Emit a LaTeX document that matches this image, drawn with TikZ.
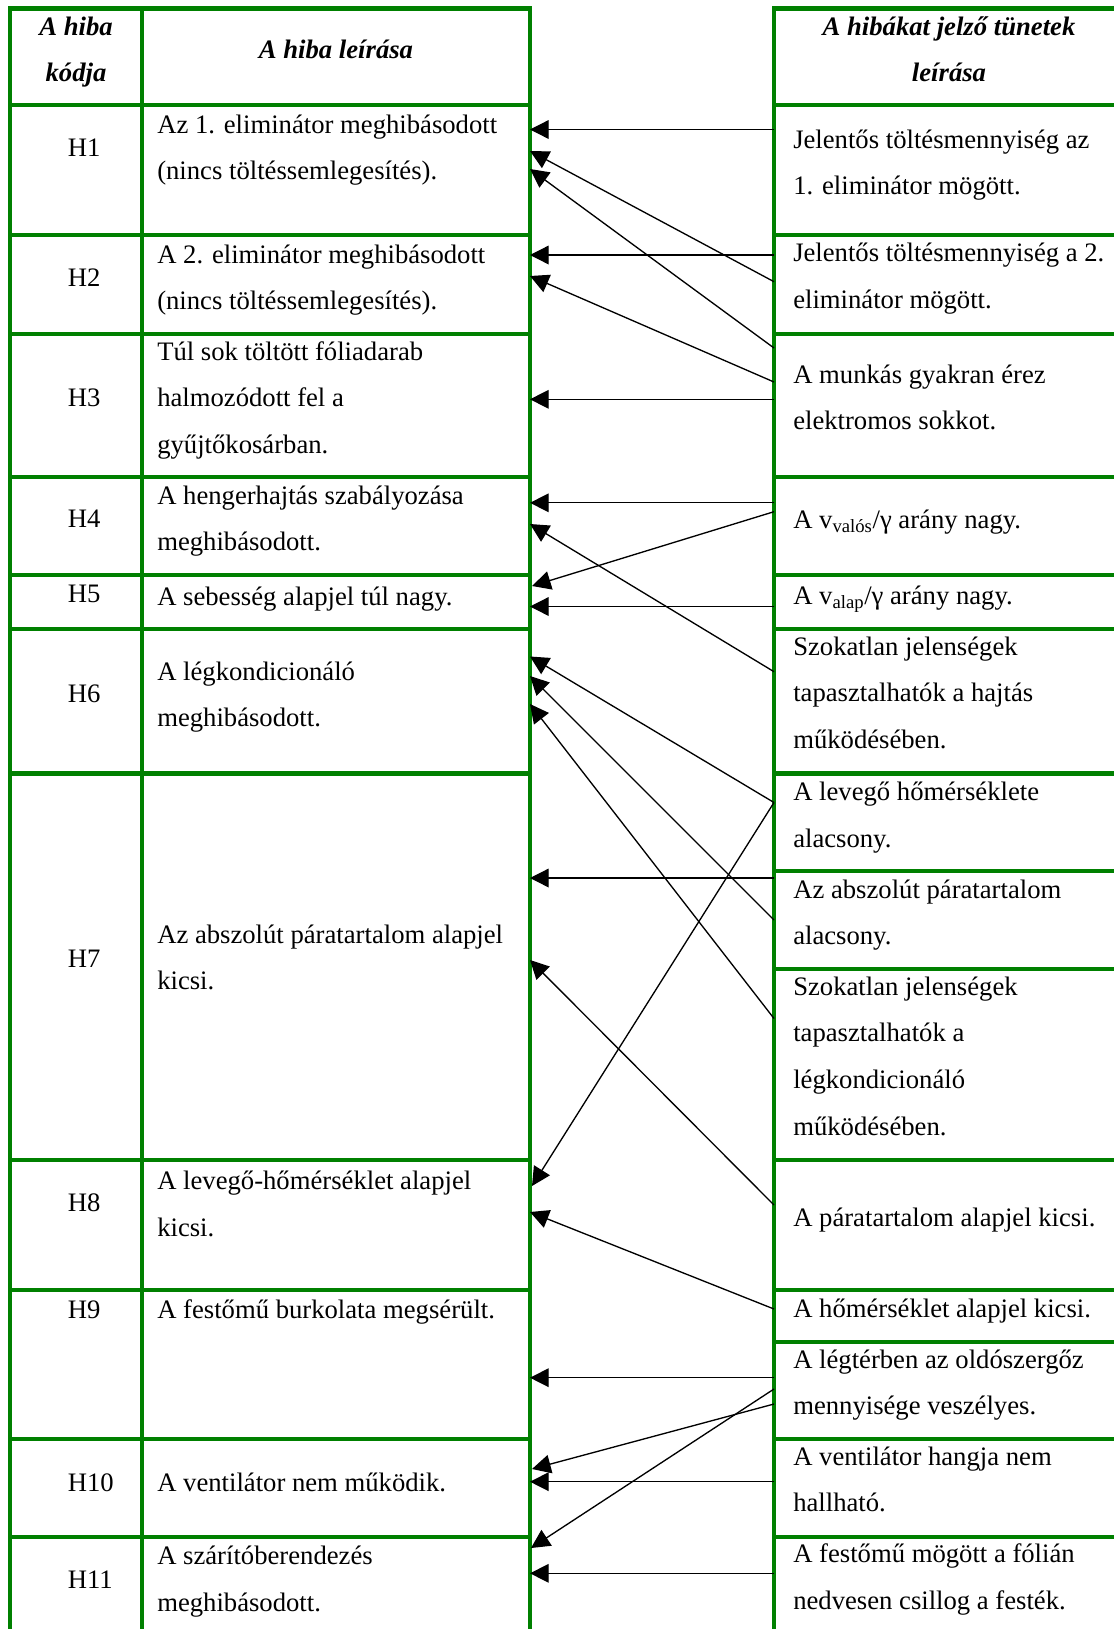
\documentclass[tikz,border=0pt]{standalone}
\usepackage{fontspec}
\setmainfont{Liberation Serif}
\usetikzlibrary{arrows.meta}
\definecolor{gridgreen}{RGB}{0,128,0}
% stacked lines, baseline = first line
\newcommand{\leftlines}[1]{\begin{tabular}[t]{@{}l@{}}#1\end{tabular}}
\newcommand{\midlines}[1]{\begin{tabular}[t]{@{}c@{}}#1\end{tabular}}

\begin{document}
\begin{tikzpicture}[x=0.75pt,y=-0.75pt,
  grid/.style={draw=gridgreen, line width=3.2pt, line join=miter},
  txt/.style={anchor=base west, inner sep=0pt, font=\fontsize{20pt}{35pt}\selectfont},
  head/.style={anchor=base, inner sep=0pt, font=\fontsize{20pt}{35pt}\selectfont\bfseries\itshape},
  link/.style={line width=1pt, -{Triangle[length=14pt,width=14pt]}}]

\useasboundingbox (0,0) rectangle (1114,1629);
\fill[white] (0,0) rectangle (1114,1629);
\clip (0,0) rectangle (1114,1629);

% ---- fault table frame ----
\draw[grid] (10,1650) -- (10,8.5) -- (530,8.5) -- (530,1650);
\draw[grid] (142,8.5) -- (142,1650);
\foreach \y in {105,235,334,477,575,629.3,773.5,1160,1290,1439,1537}
  \draw[grid] (10,\y) -- (530,\y);

% ---- symptom table frame ----
\draw[grid] (774,1650) -- (774,8.5) -- (1130,8.5);
\foreach \y in {105,235,334,477,575,629.3,773.5,871,969,1160,1290,1341.7,1439,1537}
  \draw[grid] (774,\y) -- (1130,\y);

% ---- headers ----
\node[head] (hcode) at (76,35) {\midlines{A hiba\\kódja}};
\node[head] (hdesc) at (336,58.3) {A hiba leírása};
\node[head] (hsym) at (949,35) {\midlines{A hibákat jelző tünetek\\leírása}};

% ---- fault codes ----
\node[txt] (c1) at (67.5,156) {H1};
\node[txt] (c2) at (67.5,286) {H2};
\node[txt] (c3) at (67.5,406.7) {H3};
\node[txt] (c4) at (67.5,527.7) {H4};
\node[txt] (c5) at (67.5,602.7) {H5};
\node[txt] (c6) at (67.5,702.7) {H6};
\node[txt] (c7) at (67.5,967) {H7};
\node[txt] (c8) at (67.5,1211.4) {H8};
\node[txt] (c9) at (67.5,1318.4) {H9};
\node[txt] (c10) at (67.5,1491) {H10};
\node[txt] (c11) at (67.5,1588.6) {H11};

% ---- fault descriptions ----
\node[txt] (d1) at (157,133.3) {\leftlines{Az 1. eliminátor meghibásodott\\(nincs töltéssemlegesítés).}};
\node[txt] (d2) at (157,263.3) {\leftlines{A 2. eliminátor meghibásodott\\(nincs töltéssemlegesítés).}};
\node[txt] (d3) at (157,360) {\leftlines{Túl sok töltött fóliadarab\\halmozódott fel a\\gyűjtőkosárban.}};
\node[txt] (d4) at (157,504.3) {\leftlines{A hengerhajtás szabályozása\\meghibásodott.}};
\node[txt] (d5) at (157,605) {A sebesség alapjel túl nagy.};
\node[txt] (d6) at (157,680) {\leftlines{A légkondicionáló\\meghibásodott.}};
\node[txt] (d7) at (157,943) {\leftlines{Az abszolút páratartalom alapjel\\kicsi.}};
\node[txt] (d8) at (157,1189.5) {\leftlines{A levegő-hőmérséklet alapjel\\kicsi.}};
\node[txt] (d9) at (157,1318.4) {A festőmű burkolata megsérült.};
\node[txt] (d10) at (157,1491) {A ventilátor nem működik.};
\node[txt] (d11) at (157,1564.7) {\leftlines{A szárítóberendezés\\meghibásodott.}};

% ---- symptoms ----
\node[txt] (r1) at (793,148.3) {\leftlines{Jelentős töltésmennyiség az\\1. eliminátor mögött.}};
\node[txt] (r2) at (793,261.7) {\leftlines{Jelentős töltésmennyiség a 2.\\eliminátor mögött.}};
\node[txt] (r3) at (793,383.3) {\leftlines{A munkás gyakran érez\\elektromos sokkot.}};
\node[txt] (r4) at (793,528.3) {A v\textsubscript{valós}/γ arány nagy.};
\node[txt] (r5) at (793,604) {A v\textsubscript{alap}/γ arány nagy.};
\node[txt] (r6) at (793,655) {\leftlines{Szokatlan jelenségek\\tapasztalhatók a hajtás\\működésében.}};
\node[txt] (r7) at (793,800.7) {\leftlines{A levegő hőmérséklete\\alacsony.}};
\node[txt] (r8) at (793,898.3) {\leftlines{Az abszolút páratartalom\\alacsony.}};
\node[txt] (r9) at (793,995) {\leftlines{Szokatlan jelenségek\\tapasztalhatók a\\légkondicionáló\\működésében.}};
\node[txt] (r10) at (793,1226) {A páratartalom alapjel kicsi.};
\node[txt] (r11) at (793,1317.3) {A hőmérséklet alapjel kicsi.};
\node[txt] (r12) at (793,1368.3) {\leftlines{A légtérben az oldószergőz\\mennyisége veszélyes.}};
\node[txt] (r13) at (793,1465) {\leftlines{A ventilátor hangja nem\\hallható.}};
\node[txt] (r14) at (793,1562.7) {\leftlines{A festőmű mögött a fólián\\nedvesen csillog a festék.}};

% ---- connector ends on the symptom column border ----
\coordinate (p1) at (774,129.5);
\coordinate (p2a) at (774,255);
\coordinate (p2b) at (774,281.7);
\coordinate (p3a) at (774,348);
\coordinate (p3b) at (774,382);
\coordinate (p3c) at (774,399.3);
\coordinate (p4a) at (774,502.8);
\coordinate (p4b) at (774,511.7);
\coordinate (p5) at (774,606.5);
\coordinate (p6) at (774,671.7);
\coordinate (p7) at (774,802.5);
\coordinate (p8a) at (774,878);
\coordinate (p8b) at (774,920);
\coordinate (p9) at (774,1018.5);
\coordinate (p10) at (774,1205);
\coordinate (p11) at (774,1309);
\coordinate (p12a) at (774,1377.7);
\coordinate (p12b) at (774,1389);
\coordinate (p12c) at (774,1404);
\coordinate (p13) at (774,1481.7);
\coordinate (p14) at (774,1573.3);

% ---- connector ends on the fault table border ----
\coordinate (q1a) at (530,129.5);
\coordinate (q1b) at (530,151);
\coordinate (q1c) at (530,169);
\coordinate (q2a) at (530,255);
\coordinate (q2b) at (530,276);
\coordinate (q3) at (530,399.3);
\coordinate (q4a) at (530,502.8);
\coordinate (q4b) at (530,524);
\coordinate (q5a) at (532,586);
\coordinate (q5b) at (530,606.5);
\coordinate (q6a) at (530,656.5);
\coordinate (q6b) at (530,676);
\coordinate (q6c) at (530,704);
\coordinate (q7a) at (530,878);
\coordinate (q7b) at (530,960);
\coordinate (q8a) at (532,1186);
\coordinate (q8b) at (530,1212);
\coordinate (q9) at (530,1377.7);
\coordinate (q10a) at (532,1469);
\coordinate (q10b) at (530,1481.7);
\coordinate (q11a) at (531,1548);
\coordinate (q11b) at (530,1573.3);

% ---- symptom -> fault connectors ----
\draw[link] (p1) -- (q1a);
\draw[link] (p2b) -- (q1b);
\draw[link] (p3a) -- (q1c);
\draw[link] (p2a) -- (q2a);
\draw[link] (p3b) -- (q2b);
\draw[link] (p3c) -- (q3);
\draw[link] (p4a) -- (q4a);
\draw[link] (p6) -- (q4b);
\draw[link] (p4b) -- (q5a);
\draw[link] (p5) -- (q5b);
\draw[link] (p7) -- (q6a);
\draw[link] (p8b) -- (q6b);
\draw[link] (p9) -- (q6c);
\draw[link] (p8a) -- (q7a);
\draw[link] (p10) -- (q7b);
\draw[link] (p7) -- (q8a);
\draw[link] (p11) -- (q8b);
\draw[link] (p12a) -- (q9);
\draw[link] (p12c) -- (q10a);
\draw[link] (p13) -- (q10b);
\draw[link] (p12b) -- (q11a);
\draw[link] (p14) -- (q11b);

\end{tikzpicture}
\end{document}
